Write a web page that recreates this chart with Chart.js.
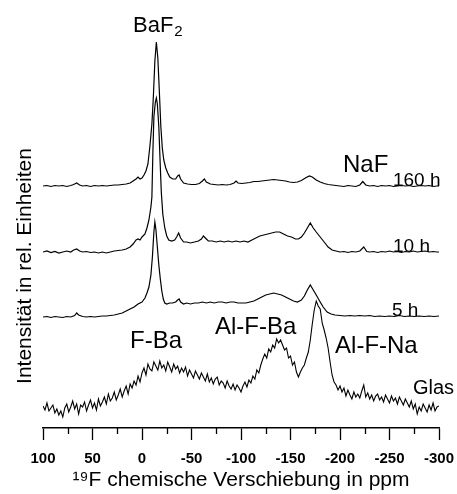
<!DOCTYPE html>
<html>
<head>
<meta charset="utf-8">
<script src="https://cdn.jsdelivr.net/npm/chart.js@4.4.1/dist/chart.umd.min.js"></script>
<style>
  html, body { margin: 0; padding: 0; background: #fff; }
  #wrap { width: 457px; height: 494px; }
</style>
</head>
<body>
<div id="wrap"><canvas id="nmrChart"></canvas></div>
<script>
// 19F NMR spectra, chemical shift in ppm, intensity in rel. units (stacked)
const shifts160 = [100,96,92,88,84,80,76,72,69,66,63,60,56,52,48,44,40,36,32,28,24,20,16,12,9,6,4,2,0,-2,-4,-6,-8,-10,-11.5,-13,-14.5,-16,-17.5,-19,-20.5,-22,-24,-26,-28,-31,-34,-36,-37.5,-39,-42,-46,-50,-54,-58,-61,-63,-65,-69,-73,-77,-81,-85,-89,-93,-95,-97,-101,-105,-109,-113,-117,-121,-125,-129,-133,-137,-141,-145,-149,-153,-157,-161,-165,-169,-172,-176,-180,-184,-188,-192,-196,-200,-204,-208,-212,-216,-220,-223,-226,-230,-234,-238,-242,-246,-250,-254,-258,-262,-266,-270,-274,-278,-282,-286,-290,-294,-298,-300];
const int160 = [0,0.5,-0.5,0.5,0,0.5,-0.5,0.5,1.5,3,1,0,0.5,-0.5,0.5,0,0.5,0,0.5,1,1,1.5,2,3,5,7,9,7,8,11,15,22,40,62,90,125,144,128,95,60,38,26,18,13,9,7,7,10,11,7,3,2,1.5,1.5,2.5,5,7,4,2,1.5,1,1.5,1,1.5,3,5,3,2.5,3,3.5,4.5,4.5,5,5.5,6,6.5,6,5.5,5,4,3.5,4,5.5,8,10,9,6,4,2.5,1.5,1,0.5,0,-0.5,0.5,0,-0.5,1,4.5,1,0,0.5,-0.5,0.5,0,0.5,-0.5,0,0.5,0,0.5,-0.5,0,0.5,0,0.5,-0.5,0,0];

const shifts10 = [100,96,92,88,84,80,76,72,69,66,63,60,56,52,48,44,40,36,32,28,24,20,16,12,9,6,4,2,0,-3,-5,-7,-9,-10,-11,-12,-13.5,-14.5,-15.5,-17,-18.5,-19.5,-21,-23,-25,-27,-30,-33,-35,-37,-39,-42,-45,-49,-53,-57,-60,-62,-64,-67,-71,-75,-79,-83,-87,-91,-95,-99,-103,-107,-111,-115,-119,-123,-127,-131,-135,-139,-143,-147,-151,-155,-158,-161,-164,-167,-170,-173,-176,-180,-184,-188,-192,-196,-200,-204,-208,-212,-216,-220,-224,-227,-230,-234,-238,-242,-246,-250,-254,-258,-262,-266,-270,-274,-278,-282,-286,-290,-294,-298,-300];
const int10 = [0,1,-0.5,0.5,-1,0,1,0,2,3,1,0,0.5,-0.5,0,-1,0,-1,0,1,1.5,2,3,5,8,12,13,12,15,18,24,32,45,55,100,135,150,154,148,125,85,60,38,24,16,12,11,12,15,19,14,10,10,9,10,11,13,16,14,11,11,10,11,10,11,10,11,10,11,10,12,14,16,17,18,19,20,20,18,16,15,13,13,15,19,24,29,24,20,15,10,5,2,1,0,0.5,-0.5,0.5,0,1,5,0.5,0,0.5,-0.5,0.5,0,1,0,0.5,-0.5,0.5,0,1,0,0.5,1,0,0.5,0,0];

const shifts5 = [100,96,92,88,84,80,76,72,68,66,64,60,56,52,48,44,40,36,32,28,24,20,16,12,8,4,0,-3,-5,-7,-9,-10.5,-12,-13,-14,-15.5,-17,-18.5,-20,-21.5,-23,-25,-28,-31,-34,-36,-37.5,-39,-42,-45,-49,-53,-57,-61,-65,-69,-73,-77,-81,-85,-89,-93,-97,-101,-105,-109,-113,-117,-121,-125,-129,-133,-137,-141,-145,-149,-153,-157,-161,-164,-167,-170,-173,-176,-180,-183,-187,-191,-195,-200,-205,-210,-215,-220,-225,-230,-235,-240,-245,-250,-255,-260,-265,-270,-275,-280,-285,-290,-295,-300];
const int5 = [0,0.5,-0.5,0.5,0,-0.5,0.5,0,1.5,4,2,0.5,0,0.5,0,0.5,1,1,1.5,2,3,4,6,8,10,13,15,19,24,30,42,60,85,95,88,70,52,38,26,18,14,13,14,14,15,17,18,15,13,14,13,14,14,15,14,15,14,15,15,14,15,15,14,14,14,15,16,18,20,22,23,24,23,22,20,18,16,15,17,21,27,32,27,22,15,10,5,3,2,1.5,1,1.5,1,1.5,1,1.5,0.5,1,0.5,1,0.5,1.5,0.5,1,0.5,1,0.5,1,0.5,1];

// glass spectrum, sampled every 2 ppm from 100 down to -300
const glasStart = 100;
const glasStep = -2;
const intGlas = [
    22,18,25,17,20,23,15,19,13,17,11,20,24,16,21,27,19,24,14,23,21,
    26,17,23,28,20,25,18,29,22,26,
    31,24,34,27,30,36,28,33,39,31,
    37,42,34,44,40,47,43,52,46,55,
    60,53,64,59,57,66,62,58,67,60,
    63,57,66,61,56,64,59,62,55,60,
    56,61,52,58,54,50,57,53,49,55,
    51,47,54,46,50,44,49,51,43,47,
    45,40,47,42,39,44,38,43,40,36,
    42,46,41,48,45,52,49,58,55,63,
    69,74,70,79,76,83,80,89,85,88,
    83,78,80,70,72,63,66,56,51,56,
    60,63,70,76,88,104,118,127,122,119,
    105,98,90,80,66,53,46,43,38,42,
    36,40,32,38,33,29,36,31,34,30,
    37,43,31,35,29,33,27,32,34,28,
    31,26,33,29,25,32,27,30,24,31,
    27,23,29,25,21,27,19,24,14,21,
    17,24,20,16,23,18,25,17,21,22
];

// stacking offsets of the spectra
const offset160 = 242;
const offset10 = 176;
const offset5 = 111;
const offsetGlas = 0;

const majorTicks = [100, 50, 0, -50, -100, -150, -200, -250, -300];
const minorTicks = [75, 25, -25, -75, -125, -175, -225, -275];

const labelTexts = ['NaF', '160 h', '10 h', '5 h', 'F-Ba', 'Al-F-Ba', 'Al-F-Na', 'Glas'];
const labelShift = [-203, -253.5, -253.5, -252.5, 12, -73.7, -195, -273.7];
const labelLevel = [256, 242, 176.5, 112, 79.7, 94, 75, 34];
const labelSize = [24, 19, 19, 19, 24, 24, 24, 20];

const FONT = '"Liberation Sans", Arial, Helvetica, sans-serif';

function toPoints(xs, ys, off) {
    return xs.map((x, i) => ({ x: x, y: ys[i] + off }));
}

const glasPoints = intGlas.map((v, i) => ({ x: glasStart + i * glasStep, y: v + offsetGlas }));

function lineSet(label, pts, width) {
    return {
        label: label,
        data: pts,
        borderColor: '#000',
        borderWidth: width,
        pointRadius: 0,
        tension: 0,
        fill: false
    };
}

const annotate = {
    id: 'annotate',
    afterDraw(chart) {
        const { ctx, chartArea, scales: { x, y } } = chart;
        ctx.save();
        ctx.fillStyle = '#000';
        ctx.textAlign = 'left';
        ctx.textBaseline = 'alphabetic';
        labelTexts.forEach((t, i) => {
            ctx.font = labelSize[i] + 'px ' + FONT;
            ctx.fillText(t, x.getPixelForValue(labelShift[i]), y.getPixelForValue(labelLevel[i]));
        });

        // BaF2 with subscript
        const bx = x.getPixelForValue(9.1);
        const by = y.getPixelForValue(396);
        ctx.font = '22px ' + FONT;
        ctx.fillText('BaF', bx, by);
        const w = ctx.measureText('BaF').width;
        ctx.font = '15px ' + FONT;
        ctx.fillText('2', bx + w + 1, by + 4);

        // minor ticks
        ctx.strokeStyle = '#000';
        ctx.lineWidth = 1.3;
        minorTicks.forEach(v => {
            const px = Math.round(x.getPixelForValue(v)) + 0.5;
            ctx.beginPath();
            ctx.moveTo(px, chartArea.bottom);
            ctx.lineTo(px, chartArea.bottom + 6);
            ctx.stroke();
        });

        // y axis title
        ctx.translate(chartArea.left - 18, (chartArea.top + chartArea.bottom) / 2 + 47);
        ctx.rotate(-Math.PI / 2);
        ctx.font = '21px ' + FONT;
        ctx.textAlign = 'center';
        ctx.textBaseline = 'middle';
        ctx.fillText('Intensität in rel. Einheiten', 0, 0);
        ctx.restore();
    }
};

const ctx = document.getElementById('nmrChart').getContext('2d');
new Chart(ctx, {
    type: 'line',
    data: {
        datasets: [
            lineSet('160 h', toPoints(shifts160, int160, offset160), 1.2),
            lineSet('10 h', toPoints(shifts10, int10, offset10), 1.2),
            lineSet('5 h', toPoints(shifts5, int5, offset5), 1.2),
            lineSet('Glas', glasPoints, 1.1)
        ]
    },
    options: {
        responsive: true,
        maintainAspectRatio: false,
        animation: false,
        layout: { padding: { left: 43, right: 18, top: 10, bottom: 0 } },
        plugins: {
            legend: { display: false },
            tooltip: { enabled: false }
        },
        scales: {
            x: {
                type: 'linear',
                min: -300,
                max: 100,
                reverse: true,
                afterBuildTicks: axis => { axis.ticks = majorTicks.map(v => ({ value: v })); },
                afterFit: axis => {
                    axis.height = 66;
                    axis.paddingLeft = 0;
                    axis.paddingRight = 0;
                },
                grid: { drawOnChartArea: false, tickLength: 12, tickColor: '#000', tickWidth: 1.3 },
                border: { display: true, color: '#000', width: 1.5 },
                ticks: {
                    color: '#000',
                    padding: 10,
                    maxRotation: 0,
                    font: { family: FONT, size: 15, weight: 'bold' }
                },
                title: {
                    display: true,
                    text: '¹⁹F chemische Verschiebung in ppm',
                    color: '#000',
                    font: { family: FONT, size: 21 },
                    padding: { top: 0, bottom: 1 }
                }
            },
            y: {
                display: false,
                min: 0,
                max: 418
            }
        }
    },
    plugins: [annotate]
});
</script>
</body>
</html>
